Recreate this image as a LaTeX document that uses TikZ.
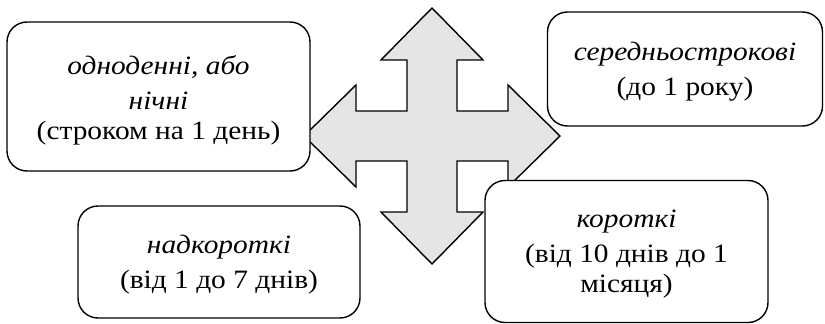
\documentclass[tikz,border=0pt]{standalone}
\usepackage{fontspec}
\setmainfont{Liberation Serif}[FakeStretch=1.11]
\begin{document}
\begin{tikzpicture}[x=1pt,y=-1pt,
  box/.style={draw=black, line width=1.4pt, rounded corners=20pt, fill=white, inner sep=0pt},
  lbl/.style={align=center, inner sep=0pt, font=\fontsize{26.5}{30}\selectfont, yshift=-3pt},
  arrowshape/.style={draw=black, line width=1.4pt, fill=gray!20, line join=miter}]
\useasboundingbox (0,0) rectangle (825,324);
% four-headed arrow
\draw[arrowshape] (432,8) -- (483,60) -- (457,60) -- (457,111) -- (508,111) -- (508,85)
  -- (560,136) -- (508,187) -- (508,161) -- (457,161) -- (457,212) -- (483,212)
  -- (432,264) -- (381,212) -- (407,212) -- (407,161) -- (356,161) -- (356,187)
  -- (304,136) -- (356,85) -- (356,111) -- (407,111) -- (407,60) -- (381,60) -- cycle;
% boxes
\node[box, minimum width=303pt, minimum height=149pt] (b1) at (158.5,96.5) {};
\node[lbl] (t1) at ([yshift=-1pt]b1.center)
  {\textit{одноденні, або}\\[5pt]\textit{нічні}\\(строком на 1 день)};
\node[box, minimum width=275pt, minimum height=114pt] (b2) at (685,69) {};
\node[lbl] (t2) at (b2.center) {\textit{середньострокові}\\[5pt](до 1 року)};
\node[box, minimum width=282pt, minimum height=112pt] (b3) at (219,262) {};
\node[lbl] (t3) at (b3.center) {\textit{надкороткі}\\[5pt](від 1 до 7 днів)};
\node[box, minimum width=283pt, minimum height=142pt] (b4) at (626.5,251.5) {};
\node[lbl] (t4) at (b4.center) {\textit{короткі}\\[5pt](від 10 днів до 1\\місяця)};
\end{tikzpicture}
\end{document}
